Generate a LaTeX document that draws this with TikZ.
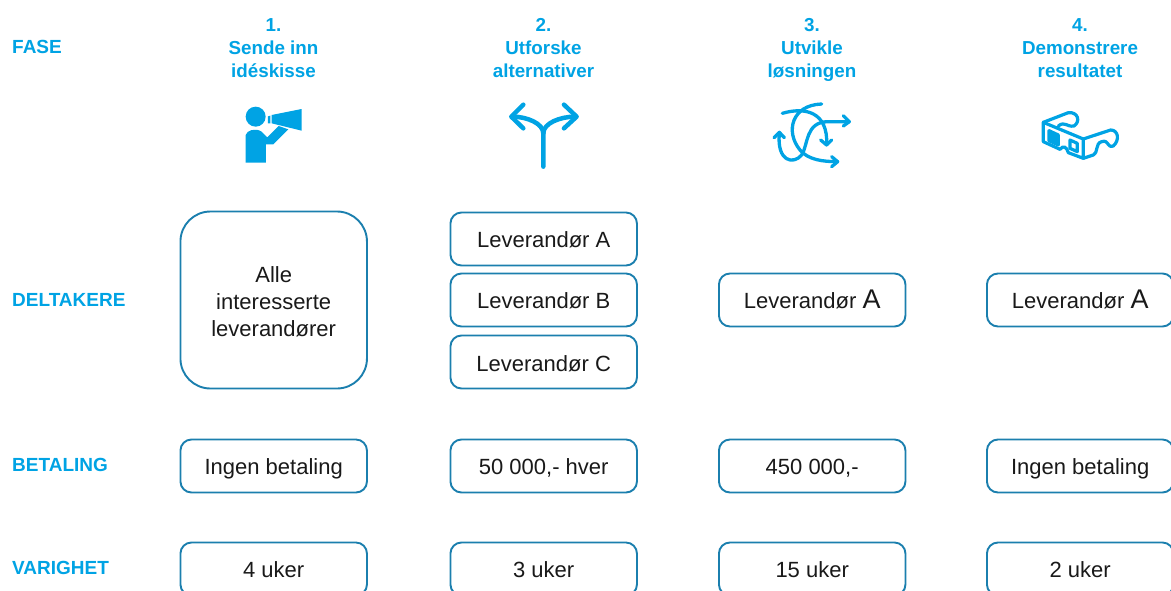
\documentclass[tikz,border=0pt]{standalone}
\usepackage{fontspec}
\setmainfont{Liberation Sans}
\definecolor{fasecolor}{HTML}{00A3E4}
\definecolor{boxcolor}{HTML}{1B7FAE}
\tikzset{
  radlabel/.style={anchor=west,inner sep=0pt,text=fasecolor,font=\fontsize{19}{23}\bfseries\selectfont},
  fasetitle/.style={align=center,inner sep=0pt,text depth=0pt,text=fasecolor,font=\fontsize{18.8}{23}\bfseries\selectfont},
  infobox/.style={draw=boxcolor,line width=1.9pt,rounded corners=11pt,minimum width=186.5pt,minimum height=53pt,
    inner sep=0pt,align=center,text depth=0pt,text=black!90,font=\fontsize{22}{27}\selectfont},
  oneline/.style={text height=16.6pt},
  iconline/.style={draw=fasecolor,line width=1.5pt,line cap=round,line join=round},
  icon/.style={x=0.3333pt,y=-0.3333pt}
}
\begin{document}
\begin{tikzpicture}[x=1pt,y=-1pt]
  \useasboundingbox (0,0) rectangle (1171,590);
  \node[radlabel] (fase) at (12,47) {FASE};
  \node[radlabel] (deltakere) at (12,300) {DELTAKERE};
  \node[radlabel] (betaling) at (12,465) {BETALING};
  \node[radlabel] (varighet) at (12,568) {VARIGHET};

  \node[fasetitle] (fase1) at (273.5,48) {1.\\Sende inn\\idéskisse};
  \node[fasetitle] (fase2) at (543.5,48) {2.\\Utforske\\alternativer};
  \node[fasetitle] (fase3) at (812,48) {3.\\Utvikle\\løsningen};
  \node[fasetitle] (fase4) at (1080,48) {4.\\Demonstrere\\resultatet};

  \node[infobox,minimum height=177pt,rounded corners=30pt,text height=72pt] (alle) at (273.7,300) {Alle\\interesserte\\leverandører};
  \node[infobox,oneline] (levA) at (543.7,239) {Leverandør A};
  \node[infobox,oneline] (levB) at (543.7,300) {Leverandør B};
  \node[infobox,oneline,text height=19pt] (levC) at (543.7,362) {Leverandør C};
  \node[infobox,oneline] (lev3) at (812.2,300) {Leverandør {\fontsize{27}{27}\selectfont A}};
  \node[infobox,oneline] (lev4) at (1080.2,300) {Leverandør {\fontsize{27}{27}\selectfont A}};

  \node[infobox,oneline] (bet1) at (273.7,466) {Ingen betaling};
  \node[infobox,oneline] (bet2) at (543.7,466) {50 000,- hver};
  \node[infobox,oneline] (bet3) at (812.2,466) {450 000,-};
  \node[infobox,oneline] (bet4) at (1080.2,466) {Ingen betaling};

  \node[infobox,oneline] (uke1) at (273.7,569) {4 uker};
  \node[infobox,oneline] (uke2) at (543.7,569) {3 uker};
  \node[infobox,oneline] (uke3) at (812.2,569) {15 uker};
  \node[infobox,oneline] (uke4) at (1080.2,569) {2 uker};

  % megaphone
  \begin{scope}[shift={(220,90)},icon]
    \fill[fasecolor] (107,80) circle[radius=10pt];
    \fill[fasecolor] (77,218) -- (77,135) .. controls (80,122) and (105,112) .. (125,125)
      -- (142,142) -- (176,108) -- (205,118) -- (160,163) -- (138,163) -- (138,218) -- cycle;
    \fill[fasecolor] (155,75) -- (245,57) -- (245,122) -- (155,100) -- cycle;
    \fill[fasecolor] (144,79) -- (151,77) -- (151,100) -- (144,100) -- cycle;
  \end{scope}
  % fork
  \begin{scope}[shift={(220,90)},icon]
    \draw[iconline,line width=4.5pt] (970,230) -- (970,130) .. controls (970,100) and (920,80) .. (878,80);
    \draw[iconline,line width=4.5pt] (970,130) .. controls (970,100) and (1020,80) .. (1065,80);
    \draw[iconline,line width=4.5pt] (910,44) -- (874,80) -- (910,115);
    \draw[iconline,line width=4.5pt] (1032,44) -- (1070,80) -- (1032,115);
  \end{scope}
  % tangled arrows
  \begin{scope}[shift={(750,90)},icon,every path/.append style={iconline,line width=3.3pt}]
    \draw (97,70) .. controls (165,50) and (235,65) .. (230,165);
    \draw (212,150) -- (230,165) -- (245,150);
    \draw (215,42) .. controls (125,45) and (105,125) .. (150,180) .. controls (175,210) and (220,215) .. (262,215);
    \draw (245,200) -- (263,215) -- (245,230);
    \draw (298,95) -- (235,95) .. controls (165,95) and (175,165) .. (155,195)
      .. controls (130,225) and (80,215) .. (88,130);
    \draw (72,143) -- (88,127) -- (103,143);
    \draw (280,77) -- (298,95) -- (280,108);
  \end{scope}
  % glasses
  \begin{scope}[shift={(750,90)},icon,every path/.append style={iconline,line width=3.2pt}]
    \draw (880,97) -- (1000,147) -- (1000,205) -- (955,188) .. controls (950,170) and (940,165) .. (930,178)
      -- (880,155) -- cycle;
    \draw (880,97) -- (955,68) .. controls (985,65) and (992,95) .. (972,108) .. controls (950,112) and (945,92) .. (925,108);
    \draw (1000,147) -- (1082,120) .. controls (1105,120) and (1110,150) .. (1090,168)
      .. controls (1070,175) and (1078,148) .. (1055,155) .. controls (1035,160) and (1045,190) .. (1030,195) -- (1000,205);
    \fill[fasecolor] (897,122) -- (925,135) -- (925,165) -- (897,152) -- cycle;
    \draw (960,150) -- (982,160) -- (982,185) -- (960,175) -- cycle;
  \end{scope}
\end{tikzpicture}
\end{document}
